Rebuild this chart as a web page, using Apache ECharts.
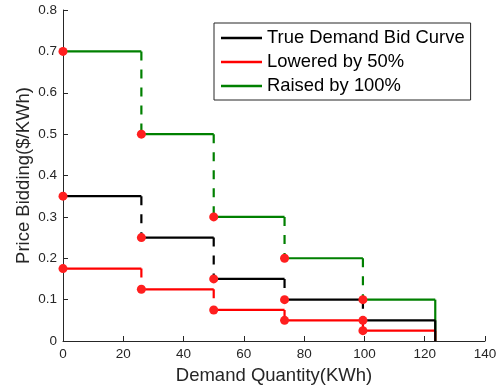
<!DOCTYPE html>
<html>
<head>
<meta charset="utf-8">
<script src="https://cdn.jsdelivr.net/npm/echarts@6/dist/echarts.min.js"></script>
<style>
html,body{margin:0;padding:0;background:#fff;}
#chart{width:504px;height:392px;}
</style>
</head>
<body>
<div id="chart"></div>
<script>
// Data
const breakpoints = [0, 26, 50, 73.5, 99.5, 123.5];
const trueBid = [0.35, 0.25, 0.15, 0.10, 0.05];
const lowered = [0.175, 0.125, 0.075, 0.05, 0.025];
const raised = [0.70, 0.50, 0.30, 0.20, 0.10];
const seriesNames = ['True Demand Bid Curve', 'Lowered by 50%', 'Raised by 100%'];
const xTicks = [0, 20, 40, 60, 80, 100, 120, 140];
const yTicks = [0, 0.1, 0.2, 0.3, 0.4, 0.5, 0.6, 0.7, 0.8];

const axisGray = '#262626';
const FONT = 'Liberation Sans, Arial, Helvetica, sans-serif';

function horizontals(vals) {
  const d = [];
  for (let i = 0; i < vals.length; i++) {
    d.push([breakpoints[i], vals[i]]);
    d.push([breakpoints[i + 1], vals[i]]);
    d.push([breakpoints[i + 1], '-']);
  }
  return d;
}
function verticals(vals) {
  const d = [];
  for (let i = 0; i < vals.length - 1; i++) {
    d.push([breakpoints[i + 1], vals[i]]);
    d.push([breakpoints[i + 1], vals[i + 1]]);
    d.push([breakpoints[i + 1], '-']);
  }
  return d;
}
function lastDrop(vals) {
  const n = vals.length;
  return [[breakpoints[n], vals[n - 1]], [breakpoints[n], 0]];
}
function dots(vals) {
  return vals.map((v, i) => [breakpoints[i], v]);
}

const sets = [
  { name: seriesNames[2], vals: raised, color: '#008000' },
  { name: seriesNames[1], vals: lowered, color: '#ff0000' },
  { name: seriesNames[0], vals: trueBid, color: '#000000' }
];

const series = [];
sets.forEach(s => {
  series.push({
    name: s.name, type: 'line', data: horizontals(s.vals), symbol: 'none',
    connectNulls: false, lineStyle: { color: s.color, width: 2.2 }, itemStyle: { color: s.color },
    silent: true, animation: false
  });
  series.push({
    type: 'line', data: verticals(s.vals), symbol: 'none', connectNulls: false,
    lineStyle: { color: s.color, width: 2.2, type: [9, 9] }, silent: true, animation: false
  });
  series.push({
    type: 'line', data: lastDrop(s.vals), symbol: 'none',
    lineStyle: { color: s.color, width: 2.2 }, silent: true, animation: false
  });
});
sets.forEach(s => {
  series.push({
    type: 'scatter', data: dots(s.vals), symbol: 'circle', symbolSize: 9,
    itemStyle: { color: '#ff1f1f', opacity: 1 }, silent: true, animation: false, z: 5
  });
});

const chart = echarts.init(document.getElementById('chart'), null, { renderer: 'canvas' });
chart.setOption({
  animation: false,
  backgroundColor: '#ffffff',
  grid: { left: 63, right: 19, top: 10, bottom: 51, containLabel: false },
  legend: {
    data: seriesNames,
    left: 214, top: 23,
    orient: 'vertical',
    itemGap: 0,
    itemWidth: 41, itemHeight: 2.5,
    icon: 'rect',
    padding: [3, 6, 2, 7],
    borderColor: axisGray, borderWidth: 1,
    backgroundColor: '#ffffff',
    textStyle: { fontFamily: FONT, fontSize: 18.4, color: '#000', lineHeight: 24, padding: [0, 0, 0, 0] }
  },
  xAxis: {
    type: 'value', min: 0, max: 140, interval: 20,
    name: 'Demand Quantity(KWh)', nameLocation: 'middle', nameGap: 25, nameMoveOverlap: false,
    nameTextStyle: { fontFamily: FONT, fontSize: 18.5, color: axisGray },
    axisLine: { show: true, lineStyle: { color: axisGray, width: 1 } },
    axisTick: { show: true, inside: true, length: 5, lineStyle: { color: axisGray } },
    axisLabel: { fontFamily: FONT, fontSize: 13.5, color: axisGray, margin: 6,
      formatter: v => (xTicks.indexOf(v) >= 0 ? String(v) : '') },
    splitLine: { show: false }
  },
  yAxis: {
    type: 'value', min: 0, max: 0.8, interval: 0.1,
    name: 'Price Bidding($/KWh)', nameLocation: 'middle', nameGap: 30, nameMoveOverlap: false,
    nameTextStyle: { fontFamily: FONT, fontSize: 18.5, color: axisGray },
    axisLine: { show: true, lineStyle: { color: axisGray, width: 1 } },
    axisTick: { show: true, inside: true, length: 5, lineStyle: { color: axisGray } },
    axisLabel: { fontFamily: FONT, fontSize: 13.5, color: axisGray, margin: 6,
      formatter: v => { const t = yTicks.find(y => Math.abs(y - v) < 1e-9); return t === undefined ? '' : (t === 0 ? '0' : String(t)); } },
    splitLine: { show: false }
  },
  series: series
});
</script>
</body>
</html>
